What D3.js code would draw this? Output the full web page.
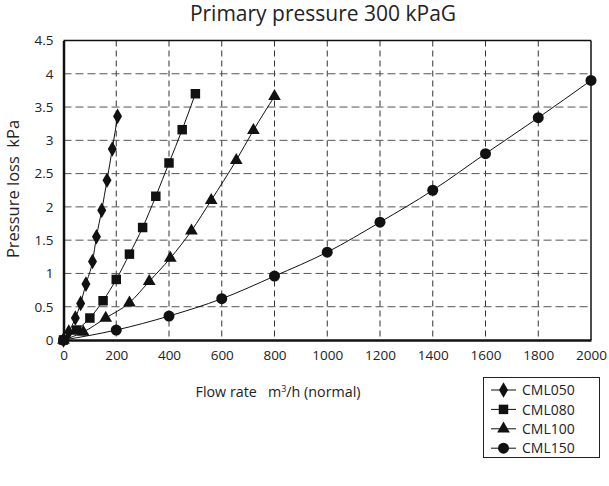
<!DOCTYPE html>
<html>
<head>
<meta charset="utf-8">
<script src="https://cdn.jsdelivr.net/npm/d3@7"></script>
<style>
  html, body { margin: 0; padding: 0; background: #fff; }
  svg { display: block; font-family: "Open Sans", "Noto Sans", sans-serif; }
</style>
</head>
<body>
<svg id="chart" width="609" height="486"></svg>
<script>
// Pressure loss curves, primary pressure 300 kPaG
const seriesNames = ["CML050", "CML080", "CML100", "CML150"];
const markerShapes = ["diamond", "square", "triangle", "circle"];

const flowCML050 = [0, 20, 45, 65, 85, 110, 125, 145, 165, 185, 205];
const lossCML050 = [0, 0.12, 0.33, 0.55, 0.84, 1.18, 1.55, 1.95, 2.4, 2.87, 3.36];

const flowCML080 = [0, 50, 100, 150, 200, 250, 300, 350, 400, 450, 500];
const lossCML080 = [0, 0.15, 0.33, 0.59, 0.91, 1.29, 1.69, 2.16, 2.66, 3.16, 3.7];

const flowCML100 = [0, 75, 160, 250, 325, 405, 485, 560, 655, 720, 800];
const lossCML100 = [0, 0.12, 0.33, 0.56, 0.88, 1.23, 1.64, 2.1, 2.7, 3.15, 3.66];

const flowCML150 = [0, 200, 400, 600, 800, 1000, 1200, 1400, 1600, 1800, 2000];
const lossCML150 = [0, 0.15, 0.36, 0.62, 0.96, 1.32, 1.77, 2.25, 2.8, 3.34, 3.9];

const xTicks = [0, 200, 400, 600, 800, 1000, 1200, 1400, 1600, 1800, 2000];
const yTicks = [0, 0.5, 1, 1.5, 2, 2.5, 3, 3.5, 4, 4.5];

const flows = [flowCML050, flowCML080, flowCML100, flowCML150];
const losses = [lossCML050, lossCML080, lossCML100, lossCML150];
const series = seriesNames.map((name, i) => ({
  name, shape: markerShapes[i],
  points: flows[i].map((f, j) => ({ x: f, y: losses[i][j] }))
}));

const svg = d3.select("#chart");
const plot = { left: 63.5, right: 591, top: 40.5, bottom: 340 };

const x = d3.scaleLinear().domain([0, 2000]).range([plot.left, plot.right]);
const y = d3.scaleLinear().domain([0, 4.5]).range([plot.bottom, plot.top]);

// dashed grid
const grid = svg.append("g");
grid.selectAll("line.vg").data(xTicks.slice(1, -1)).join("line")
  .attr("x1", d => x(d)).attr("x2", d => x(d))
  .attr("y1", plot.top).attr("y2", plot.bottom)
  .attr("stroke", "#333").attr("stroke-width", 1).attr("stroke-dasharray", "6,4");
grid.selectAll("line.hg").data(yTicks.slice(1, -1)).join("line")
  .attr("x1", plot.left).attr("x2", plot.right)
  .attr("y1", d => y(d)).attr("y2", d => y(d))
  .attr("stroke", "#555").attr("stroke-width", 1).attr("stroke-dasharray", "8,4");

// frame
svg.append("line").attr("x1", plot.left).attr("x2", plot.right)
  .attr("y1", plot.top).attr("y2", plot.top).attr("stroke", "#111").attr("stroke-width", 1.5);
svg.append("line").attr("x1", plot.right).attr("x2", plot.right)
  .attr("y1", plot.top).attr("y2", plot.bottom).attr("stroke", "#111").attr("stroke-width", 1.5);

// axes
const xAxis = svg.append("g").attr("transform", `translate(0,${plot.bottom})`)
  .call(d3.axisBottom(x).tickValues(xTicks).tickSize(0).tickPadding(10)
    .tickFormat(d3.format("d")));
const yAxis = svg.append("g").attr("transform", `translate(${plot.left},0)`)
  .call(d3.axisLeft(y).tickValues(yTicks).tickSize(0).tickPadding(10)
    .tickFormat(d => String(d)));
[xAxis, yAxis].forEach(a => {
  a.select(".domain").attr("stroke", "#111").attr("stroke-width", 2.5);
  a.selectAll("text").attr("font-family", "Open Sans, sans-serif")
    .attr("font-size", 13.5).attr("fill", "#222");
});

// curves and markers
const line = d3.line().x(d => x(d.x)).y(d => y(d.y)).curve(d3.curveMonotoneX);
const symbolFor = {
  diamond: d3.symbol().type(d3.symbolDiamond).size(70),
  square: d3.symbol().type(d3.symbolSquare).size(90),
  triangle: d3.symbol().type(d3.symbolTriangle).size(70),
  circle: d3.symbol().type(d3.symbolCircle).size(95)
};

const sg = svg.append("g").selectAll("g").data(series).join("g");
sg.append("path").attr("d", d => line(d.points))
  .attr("fill", "none").attr("stroke", "#111").attr("stroke-width", 1);
sg.selectAll("path.m").data(d => d.points.map(p => ({ ...p, shape: d.shape })))
  .join("path").attr("class", "m")
  .attr("transform", d => `translate(${x(d.x)},${y(d.y)})`)
  .attr("d", d => symbolFor[d.shape]())
  .attr("fill", "#111");

// title and axis labels
svg.append("text").attr("x", 323).attr("y", 21).attr("text-anchor", "middle")
  .attr("font-size", 21).attr("fill", "#222").text("Primary pressure 300 kPaG");

const xt = svg.append("text").attr("x", 278).attr("y", 397).attr("text-anchor", "middle")
  .attr("font-size", 14.3).attr("fill", "#222").attr("xml:space", "preserve");
xt.append("tspan").text("Flow rate   m");
xt.append("tspan").attr("font-size", 9).attr("dy", -5).text("3");
xt.append("tspan").attr("dy", 5).text("/h (normal)");

svg.append("text").attr("transform", "translate(19,189) rotate(-90)")
  .attr("text-anchor", "middle").attr("font-size", 16.5).attr("fill", "#222")
  .attr("xml:space", "preserve").text("Pressure loss  kPa");

// legend
const lg = svg.append("g");
lg.append("rect").attr("x", 483.5).attr("y", 377.5).attr("width", 116).attr("height", 80)
  .attr("fill", "#fff").attr("stroke", "#222").attr("stroke-width", 1);
const li = lg.selectAll("g").data(series).join("g")
  .attr("transform", (d, i) => `translate(0,${390 + i * 19.4})`);
li.append("line").attr("x1", 491).attr("x2", 516).attr("stroke", "#111").attr("stroke-width", 1);
li.append("path").attr("transform", "translate(503.5,0)")
  .attr("d", d => symbolFor[d.shape]()).attr("fill", "#111");
li.append("text").attr("x", 522).attr("y", 5.2).attr("font-size", 14).attr("fill", "#222")
  .text(d => d.name);
</script>
</body>
</html>
